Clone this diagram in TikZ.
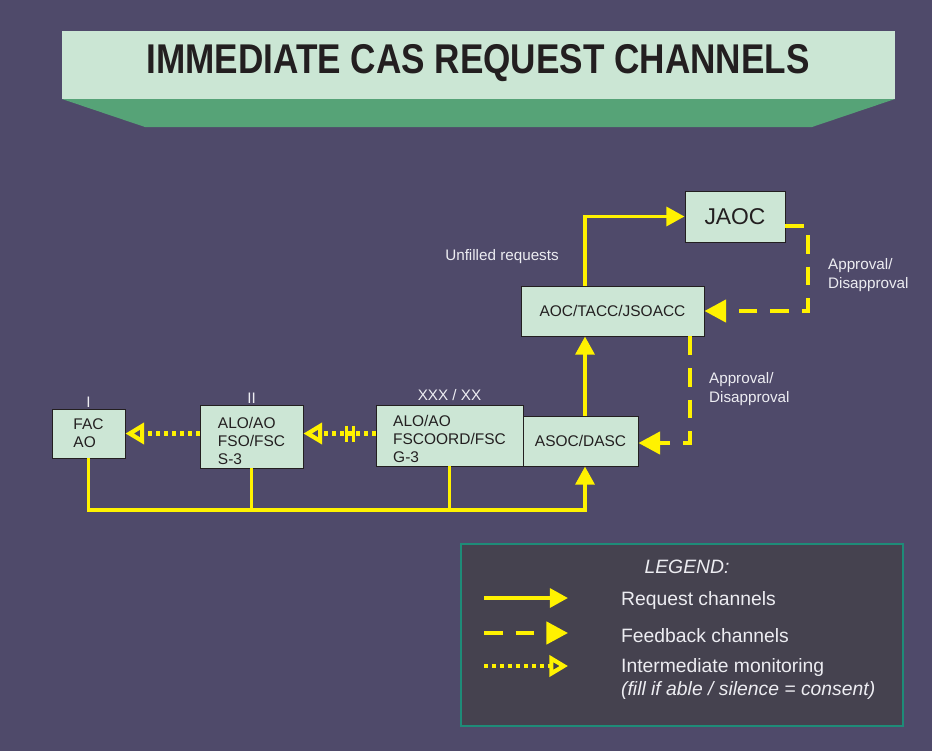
\documentclass[tikz,border=0pt]{standalone}
\usepackage{fontspec}
\setmainfont{Liberation Sans}
\usepackage{graphicx}
\usetikzlibrary{arrows.meta,calc}

\definecolor{bg}{HTML}{4F4A6A}
\definecolor{boxfill}{HTML}{CCE6D5}
\definecolor{banner}{HTML}{CBE6D4}
\definecolor{bannerdark}{HTML}{56A377}
\definecolor{chan}{HTML}{FFF200}
\definecolor{legfill}{HTML}{45424F}
\definecolor{legline}{HTML}{1E8C78}
\definecolor{lbltext}{HTML}{EDEDF2}
\definecolor{ink}{HTML}{231F20}

\begin{document}
\begin{tikzpicture}[x=0.03cm,y=-0.03cm,
  unit/.style={draw=ink,line width=0.8pt,fill=boxfill,text=ink,align=left,inner sep=0pt,
    font=\fontsize{13.2pt}{15.5pt}\selectfont},
  lbl/.style={text=lbltext,align=left,font=\fontsize{13pt}{15.5pt}\selectfont},
  echelon/.style={lbl,inner sep=0pt,text depth=0pt},
  keytxt/.style={text=lbltext,align=left,font=\fontsize{16.5pt}{19pt}\selectfont},
  bus/.style={chan,line width=3.4pt},
  req/.style={bus,-{Triangle[length=15.5pt,width=16pt]}},
  fb/.style={bus,dash pattern=on 16pt off 11pt,-{Triangle[length=18.5pt,width=19pt]}},
  mon/.style={chan,line width=3.6pt,dash pattern=on 3.4pt off 3.4pt,-{Triangle[open,length=16pt,width=18pt]}}]
\useasboundingbox (0,0) rectangle (932,751);
\fill[bg] (0,0) rectangle (932,751);

% title banner
\fill[banner] (62,31) rectangle (895,99);
\fill[bannerdark] (62,99) -- (895,99) -- (812,127) -- (145,127) -- cycle;
\node[text=ink] (title) at (478,63)
  {\fontsize{35.5pt}{40pt}\selectfont\bfseries\scalebox{0.845}[1]{IMMEDIATE CAS REQUEST CHANNELS}};

% units
\node[unit,minimum width=2.19cm,minimum height=1.47cm,
  label={[echelon,label distance=1pt]above:I}] (fac) at (88.5,433.5) {FAC\\AO};
\node[unit,minimum width=3.09cm,minimum height=1.89cm,
  label={[echelon,label distance=1pt]above:II}] (bn) at (251.5,436.5) {\rule{0pt}{17pt}ALO/AO\\FSO/FSC\\S-3};
\node[unit,minimum width=4.41cm,minimum height=1.83cm,
  label={[echelon,label distance=3pt]above:XXX / XX}] (div) at (449.5,435.5) {\rule{0pt}{16pt}ALO/AO\\FSCOORD/FSC\\G-3};
\node[unit,minimum width=3.45cm,minimum height=1.5cm] (asoc) at (580.5,441) {ASOC/DASC};
\node[unit,minimum width=5.49cm,minimum height=1.5cm] (aoc) at (612.5,311) {AOC/TACC/JSOACC};
\node[unit,minimum width=3cm,minimum height=1.53cm,font=\fontsize{19.5pt}{22pt}\selectfont] (jaoc) at (735,216.5) {JAOC};

% request channels
\coordinate (busR) at (585,510);
\draw[req] (fac.south) |- (busR) -- (busR |- asoc.south);
\draw[bus] (bn.south) -- (bn.south |- busR);
\draw[bus] (div.south) -- (div.south |- busR);
\draw[req] (asoc.north -| busR) -- (aoc.south -| busR);
\draw[req] (aoc.north -| busR) |- (jaoc.west);
\node[lbl] (unfilled) at (502,257) {Unfilled requests};

% feedback channels
\coordinate (j1) at (808,226);
\draw[fb] (jaoc.east |- j1) -- (j1) |- (aoc.east);
\node[lbl,anchor=west] (appr1) at (824,275) {Approval/\\Disapproval};
\coordinate (a1) at (690,443);
\draw[fb] (aoc.south -| a1) -- (a1) -- (asoc.east |- a1);
\node[lbl,anchor=west] (appr2) at (705,389) {Approval/\\Disapproval};

% intermediate monitoring
\draw[mon] (bn.west |- fac.east) -- (fac.east);
\draw[mon] (div.west |- fac.east) -- coordinate[pos=0.36] (cut) (bn.east |- fac.east);
\draw[chan,line width=2.6pt] ($(cut)+(-3.5,-8)$) -- ++(0,16) ($(cut)+(3.5,-8)$) -- ++(0,16);

% legend
\draw[legline,fill=legfill,line width=1.5pt] (461,544) rectangle (903,726);
\node[keytxt,font=\fontsize{16.5pt}{19pt}\selectfont\itshape] (legend) at (687,567) {LEGEND:};
\foreach \ya/\yt/\s/\txt in {598/600/req/Request channels,
    633/636/fb/Feedback channels,
    666/679/mon/{Intermediate monitoring\\\textit{(fill if able / silence = consent)}}}{
  \coordinate (from-\s) at (484,\ya);
  \coordinate (to-\s) at (568,\ya);
  \draw[\s] (from-\s) -- (to-\s);
  \node[keytxt,anchor=west] (txt-\s) at (617,\yt) {\txt};
}
\end{tikzpicture}
\end{document}
